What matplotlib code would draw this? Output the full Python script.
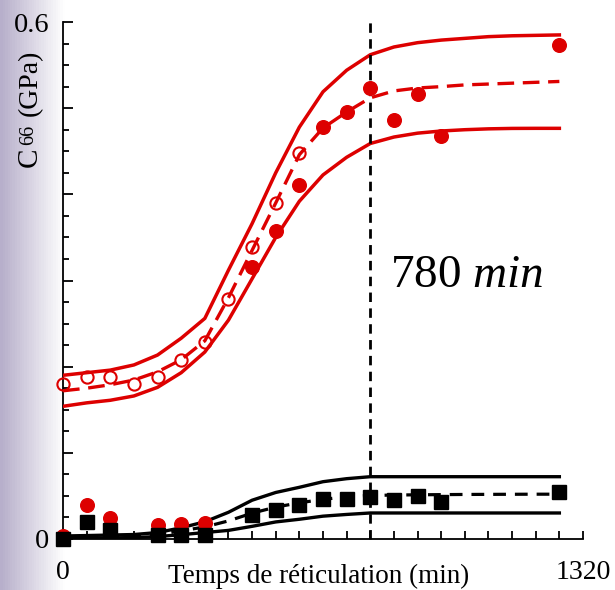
import numpy as np
import matplotlib
matplotlib.use("Agg")
import matplotlib.pyplot as plt
from matplotlib.ticker import MultipleLocator, FixedLocator, FixedFormatter
from matplotlib.colors import LinearSegmentedColormap

plt.rcParams['font.family'] = ['Liberation Serif', 'DejaVu Serif']
plt.rcParams['mathtext.fontset'] = 'custom'
plt.rcParams['mathtext.rm'] = 'Liberation Serif'
plt.rcParams['mathtext.it'] = 'Liberation Serif:italic'

# ---------------- data ----------------
t_curve = [0, 60, 120, 180, 240, 300, 360, 420, 480, 540, 600, 660, 720,
           780, 840, 900, 960, 1020, 1080, 1140, 1200, 1260]
red_upper = [0.190, 0.193, 0.196, 0.202, 0.2135, 0.233, 0.256, 0.312, 0.366, 0.425,
             0.478, 0.519, 0.544, 0.562, 0.571, 0.576, 0.579, 0.581, 0.583, 0.584,
             0.5845, 0.585]
red_mid = [0.172, 0.175, 0.179, 0.1845, 0.194, 0.208, 0.230, 0.280, 0.335, 0.390,
           0.446, 0.477, 0.4955, 0.512, 0.520, 0.5234, 0.525, 0.527, 0.528, 0.529,
           0.530, 0.531]
red_lower = [0.154, 0.158, 0.161, 0.166, 0.176, 0.193, 0.217, 0.254, 0.302, 0.350,
             0.392, 0.4225, 0.443, 0.459, 0.4665, 0.471, 0.4735, 0.475, 0.476, 0.4765,
             0.4766, 0.4766]
black_upper = [0.0035, 0.004, 0.0046, 0.0052, 0.0075, 0.013, 0.020, 0.031, 0.045, 0.054,
               0.060, 0.0665, 0.070, 0.0723, 0.0723, 0.0723, 0.0723, 0.0723, 0.0723,
               0.0723, 0.0723, 0.0723]
black_mid = [0.0017, 0.0022, 0.0027, 0.0033, 0.005, 0.0095, 0.014, 0.021, 0.030, 0.037,
             0.042, 0.046, 0.049, 0.0505, 0.051, 0.0513, 0.0515, 0.0517, 0.0518, 0.0519,
             0.052, 0.052]
black_lower = [0.0006, 0.001, 0.0013, 0.0017, 0.0028, 0.005, 0.0075, 0.010, 0.0147, 0.0198,
               0.0229, 0.0265, 0.0285, 0.0302, 0.0302, 0.0302, 0.0302, 0.0302, 0.0302,
               0.0302, 0.0302, 0.0302]

t_open = [0, 60, 120, 180, 240, 300, 360, 420, 480, 540, 600]
red_open = [0.180, 0.188, 0.188, 0.180, 0.188, 0.208, 0.229, 0.279, 0.339, 0.390, 0.448]

t_filled = [480, 540, 600, 660, 720, 780, 840, 900, 960, 1260]
red_filled = [0.316, 0.357, 0.411, 0.478, 0.496, 0.523, 0.486, 0.517, 0.468, 0.573]

t_low = [0, 60, 120, 240, 300, 360]
red_low = [0.004, 0.039, 0.024, 0.016, 0.017, 0.019]

t_sq = [0, 60, 120, 240, 300, 360, 480, 540, 600, 660, 720, 780, 840, 900, 960, 1260]
black_sq = [0.0, 0.020, 0.010, 0.005, 0.005, 0.005, 0.028, 0.034, 0.039, 0.046, 0.047,
            0.049, 0.045, 0.050, 0.043, 0.054]

t_mark = 780
x_ticklabels = ['0', '1320']
y_major = [0.0, 0.1, 0.2, 0.3, 0.4, 0.5, 0.6]
y_ticklabels = ['0', '', '', '', '', '', '0.6']

RED = '#dd0000'

W, H = 615, 590
fig = plt.figure(figsize=(W / 100, H / 100), dpi=100)

# background gradient (left lavender fading to white)
bg = fig.add_axes([0, 0, 1, 1], zorder=-10)
bg.axis('off')
grad = np.linspace(0, 1, 615)[None, :]
cmap = LinearSegmentedColormap.from_list('g', [(0, '#b7afcb'), (63 / 615, '#ffffff'), (1, '#ffffff')])
bg.imshow(grad, aspect='auto', cmap=cmap, extent=[0, 1, 0, 1], vmin=0, vmax=1)
bg.set_xlim(0, 1)
bg.set_ylim(0, 1)

ax = fig.add_axes([63 / W, 1 - 539 / H, 520 / W, 517 / H])
ax.patch.set_alpha(0)

# red curves
ax.plot(t_curve, red_upper, color=RED, lw=2.5, zorder=3)
ax.plot(t_curve, red_lower, color=RED, lw=2.5, zorder=3)
ax.plot(t_curve, red_mid, color=RED, lw=2.4, linestyle=(0, (5, 2.6)), zorder=3)
# black curves
ax.plot(t_curve, black_upper, color='black', lw=2.4, zorder=3)
ax.plot(t_curve, black_lower, color='black', lw=2.4, zorder=3)
ax.plot(t_curve, black_mid, color='black', lw=2.3, linestyle=(0, (4, 2.8)), zorder=3)

# vertical marker line
ax.plot([t_mark, t_mark], [0, 0.605], color='black', lw=2.0, linestyle=(0, (3.4, 2.3)),
        clip_on=False, zorder=4)

# markers
ax.plot(t_open, red_open, 'o', ms=8.8, mfc='none', mec=RED, mew=1.5, zorder=5, clip_on=False)
ax.plot(t_filled, red_filled, 'o', ms=9.8, color=RED, mec=RED, zorder=5, clip_on=False)
ax.plot(t_low, red_low, 'o', ms=9.8, color=RED, mec=RED, zorder=5, clip_on=False)
ax.plot(t_sq, black_sq, 's', ms=9.6, color='black', zorder=6, clip_on=False)

ax.text(830, 0.293, r'780 $\mathit{min}$', fontsize=34, ha='left', va='baseline')

ax.set_xlim(0, 1320)
ax.set_ylim(0, 0.6)
for s in ['top', 'right']:
    ax.spines[s].set_visible(False)
for s in ['left', 'bottom']:
    ax.spines[s].set_linewidth(1.3)

ax.xaxis.set_major_locator(FixedLocator([0, 1320]))
ax.xaxis.set_major_formatter(FixedFormatter(x_ticklabels))
ax.xaxis.set_minor_locator(MultipleLocator(60))
ax.yaxis.set_major_locator(FixedLocator(y_major))
ax.yaxis.set_major_formatter(FixedFormatter(y_ticklabels))
ax.yaxis.set_minor_locator(MultipleLocator(0.025))

ax.tick_params(axis='x', which='both', direction='in', length=6, width=1.3,
               labelsize=20, pad=15)
ax.tick_params(axis='y', which='major', direction='in', length=7, width=1.3,
               labelsize=20.5, pad=10)
ax.tick_params(axis='y', which='minor', direction='in', length=4, width=1.3)

# x label
fig.text(319 / W, 1 - 583 / H, 'Temps de réticulation (min)', fontsize=19.5,
         ha='center', va='baseline')

# y label pieces
fig.text(37 / W, 1 - 167 / H, 'C', fontsize=21, rotation=90, rotation_mode='anchor',
         ha='left', va='baseline')
fig.text(33 / W, 1 - 145 / H, '66', fontsize=14.5, rotation=90, rotation_mode='anchor',
         ha='left', va='baseline')
fig.text(37 / W, 1 - 116 / H, '(GPa)', fontsize=20, rotation=90, rotation_mode='anchor',
         ha='left', va='baseline')

fig.savefig('out.png', dpi=100)
